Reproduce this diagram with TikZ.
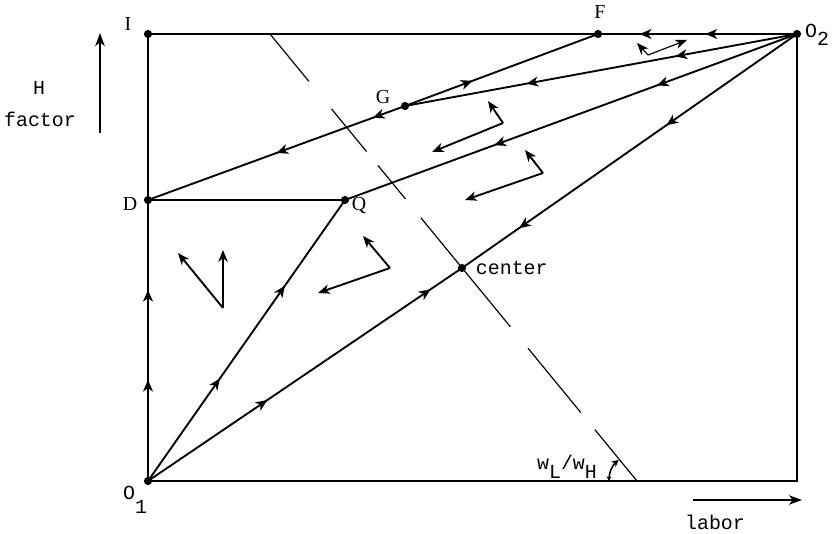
\documentclass[tikz,border=0pt]{standalone}
\usepackage{fontspec}
\setmainfont{Liberation Serif}
\setmonofont{Liberation Mono}
\usetikzlibrary{arrows.meta,calc,decorations.markings}

\begin{document}
\begin{tikzpicture}[x=0.03cm,y=0.03cm,line width=1.6pt,
    dot/.style={circle,fill,inner sep=0pt,minimum size=7pt},
    tw/.style={font=\ttfamily\fontsize{17}{19}\selectfont,inner sep=0pt},
    rm/.style={font=\fontsize{17}{19}\selectfont,inner sep=0pt},
    flow/.style={postaction={decorate,decoration={markings,
        mark=at position #1 with {\arrow{Stealth[length=10pt,width=8.5pt,inset=3pt]}}}}},
    vec/.style={line width=1.6pt,-{Stealth[length=10pt,width=8pt,inset=3pt]}},
    guide/.style={line width=1pt}]
    \useasboundingbox (0,0) rectangle (832,534);
    % corners and points of the box
    \node[dot] (O1) at (148,53) {};
    \node[dot] (O2) at (797,500) {};
    \node[dot] (I) at (148,500) {};
    \node[dot] (D) at (148,334) {};
    \node[dot] (Q) at (345,334) {};
    \node[dot] (G) at (405,428) {};
    \node[dot] (F) at (598,500) {};
    \node[dot] (ctr) at (462,266) {};
    \coordinate (BR) at (797,53);
    \draw (I.center) -- (F.center) (O2.center) -- (BR) -- (O1.center) -- (I.center);
    % paths
    \draw[flow=0.36,flow=0.68] (O1.center) -- (D.center);
    \draw[flow=0.365,flow=0.695] (O1.center) -- (Q.center);
    \draw[flow=0.38,flow=0.9] (O1.center) -- (ctr.center);
    \draw[flow=0.39,flow=0.83] (O2.center) -- (ctr.center);
    \draw[flow=0.31,flow=0.67] (O2.center) -- (Q.center);
    \draw (D.center) -- (Q.center);
    \draw[flow=0.125,flow=0.5] (G.center) -- (D.center);
    \draw[flow=0.35] (G.center) -- (F.center);
    \draw[flow=0.31,flow=0.69] (O2.center) -- (G.center);
    \draw[flow=0.46,flow=0.79] (O2.center) -- (F.center);
    % factor price line
    \coordinate (wt) at (270,500);
    \coordinate (wb) at (637,53);
    \foreach \a/\b in {0/0.106,0.168/0.263,0.294/0.369,0.411/0.655,0.703/0.847,0.885/1}
      \draw[guide] ($(wt)!\a!(wb)$) -- ($(wt)!\b!(wb)$);
    \draw[guide,line width=1.3pt,{Stealth[length=4pt,width=4pt]}-{Stealth[length=6pt,width=6pt]}]
      ($(wb)+(-28,0)$) arc[start angle=180,end angle=131,radius=28];
    % small vectors
    \coordinate (k1) at (223,226); \coordinate (k1a) at (178,281); \coordinate (k1b) at (223,284);
    \coordinate (k2) at (390,266); \coordinate (k2a) at (363,298); \coordinate (k2b) at (318,241);
    \coordinate (k3) at (543,361); \coordinate (k3a) at (525,384); \coordinate (k3b) at (465,334);
    \coordinate (k4) at (503,411); \coordinate (k4a) at (488,433); \coordinate (k4b) at (432,382);
    \coordinate (k5) at (648,479); \coordinate (k5a) at (637,491); \coordinate (k5b) at (687,494);
    \draw[vec] (k1) -- (k1a); \draw[vec] (k1) -- (k1b);
    \draw[vec] (k2) -- (k2a); \draw[vec] (k2) -- (k2b);
    \draw[vec] (k3) -- (k3a); \draw[vec] (k3) -- (k3b);
    \draw[vec] (k4) -- (k4a); \draw[vec] (k4) -- (k4b);
    \draw[vec,line width=1pt] (k5) -- (k5a); \draw[vec,line width=1pt] (k5) -- (k5b);
    % labels
    \node[rm] (Ilab) at (128,510) {I};
    \node[rm] (Flab) at (600,522) {F};
    \node[rm] (Glab) at (383,437) {G};
    \node[rm] (Dlab) at (130,330) {D};
    \node[rm] (Qlab) at (359,328) {Q};
    \node[tw,anchor=west] (clab) at (475,266) {center};
    \node[tw] (o1lab) at (135,34) {O\raisebox{-1.3ex}{1}};
    \node[tw] (o2lab) at (817,499) {O\raisebox{-0.8ex}{2}};
    \node[tw] (wlab) at (567,67) {w\raisebox{-0.9ex}{L}/w\raisebox{-0.9ex}{H}};
    \node[tw] (hlab) at (39,446) {H};
    \node[tw] (flab) at (40,415) {factor};
    \node[tw] (llab) at (715,12) {labor};
    % axis arrows
    \coordinate (ha) at (100,401); \coordinate (hb) at (100,501);
    \draw[-{Stealth[length=11pt,width=8pt,inset=3pt]}] (ha) -- (hb);
    \coordinate (la) at (693,34); \coordinate (lb) at (802,34);
    \draw[-{Stealth[length=11pt,width=8pt,inset=3pt]}] (la) -- (lb);
\end{tikzpicture}
\end{document}
